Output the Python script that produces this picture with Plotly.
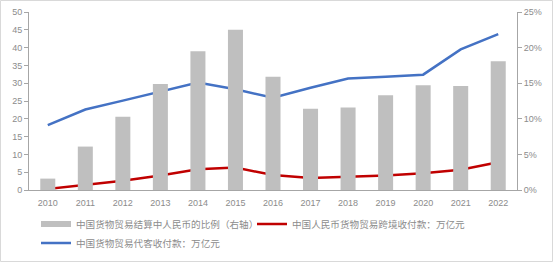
import plotly.graph_objects as go

years = [str(y) for y in range(2010, 2023)]
share_pct = [1.6, 6.1, 10.3, 14.9, 19.5, 22.5, 15.9, 11.4, 11.6, 13.3, 14.7, 14.6, 18.1]
rmb_trade = [0.3, 1.5, 2.6, 4.1, 5.8, 6.3, 4.2, 3.4, 3.7, 4.1, 4.7, 5.7, 7.8]
agent_trade = [18.2, 22.6, 25.1, 27.7, 30.2, 28.3, 25.9, 28.7, 31.3, 31.8, 32.4, 39.5, 43.8]
left_ticks = [0, 5, 10, 15, 20, 25, 30, 35, 40, 45, 50]
right_ticks = [0, 5, 10, 15, 20, 25]

name_bar = "中国货物贸易结算中人民币的比例（右轴）"
name_red = "中国人民币货物贸易跨境收付款：万亿元"
name_blue = "中国货物贸易代客收付款：万亿元"

W, H = 553, 262
ml, mr, mt, mb = 29, 36, 12, 72
pw = W - ml - mr
ph = H - mt - mb

BAR_C = "#BFBFBF"
RED_C = "#C00000"
BLUE_C = "#4472C4"

fig = go.Figure()
fig.add_trace(go.Bar(x=years, y=share_pct, name=name_bar, yaxis="y2",
                     marker=dict(color=BAR_C, line=dict(width=0)), showlegend=False))
# legend proxy for bar series (wide gray swatch like the reference)
fig.add_trace(go.Scatter(x=[None], y=[None], name=name_bar, mode="lines",
                         line=dict(color=BAR_C, width=6), legend="legend"))
fig.add_trace(go.Scatter(x=years, y=rmb_trade, name=name_red, mode="lines",
                         line=dict(color=RED_C, width=2.5), legend="legend2"))
fig.add_trace(go.Scatter(x=years, y=agent_trade, name=name_blue, mode="lines",
                         line=dict(color=BLUE_C, width=2.5), legend="legend3"))

tickfont = dict(family="Liberation Sans, Arial, sans-serif", size=9, color="#8C8C8C")
legfont = dict(family="Noto Sans CJK SC", size=9.6, color="#8C8C8C")

def leg(xp, yp):
    return dict(orientation="h", xref="container", yref="container",
                x=xp / W, xanchor="left", y=1 - yp / H,
                yanchor="middle", font=legfont, bgcolor="rgba(0,0,0,0)",
                borderwidth=0, itemwidth=30)

fig.update_layout(
    width=W, height=H,
    margin=dict(l=ml, r=mr, t=mt, b=mb, pad=0, autoexpand=False),
    paper_bgcolor="white", plot_bgcolor="white",
    bargap=0.6,
    xaxis=dict(type="category", showgrid=False, showline=True, linecolor="#A6A6A6",
               linewidth=1, ticks="outside", ticklen=4, tickcolor="rgba(0,0,0,0)",
               tickfont=tickfont, zeroline=False),
    yaxis=dict(range=[0, 50], tickvals=left_ticks, showgrid=False, showline=True,
               linecolor="#A6A6A6", linewidth=1, ticks="outside", ticklen=4,
               tickcolor="#A6A6A6", tickfont=tickfont, zeroline=False),
    yaxis2=dict(range=[0, 25], tickvals=right_ticks,
                ticktext=[f"{v}%" for v in right_ticks], overlaying="y", side="right",
                showgrid=False, showline=True, linecolor="#A6A6A6", linewidth=1,
                ticks="outside", ticklen=4, tickcolor="#A6A6A6", tickfont=tickfont,
                zeroline=False),
    legend=leg(36, 224),
    legend2=leg(252, 224),
    legend3=leg(36, 243),
    showlegend=True,
    shapes=[dict(type="rect", xref="paper", yref="paper",
                 x0=-(ml - 0.5) / pw, x1=1 + (mr - 0.5) / pw,
                 y0=-(mb - 0.5) / ph, y1=1 + (mt - 0.5) / ph,
                 line=dict(color="#D9D9D9", width=1), layer="below")],
)

fig.write_html("out.html")
